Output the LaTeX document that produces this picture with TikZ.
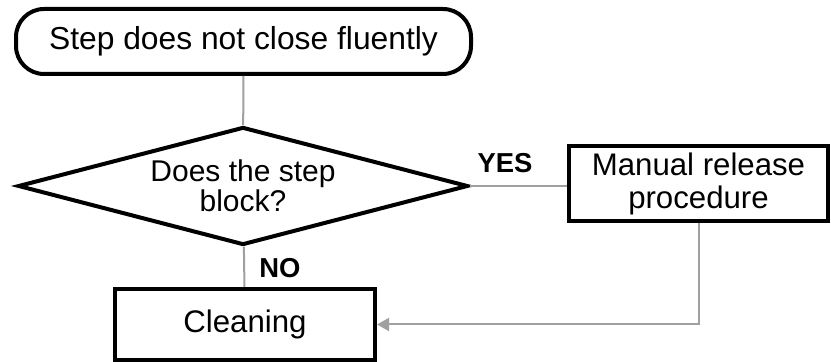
\documentclass[tikz,border=0pt]{standalone}
\usepackage{fontspec}
\setmainfont{Liberation Sans}
\usetikzlibrary{shapes.geometric,arrows.meta}
\definecolor{linkgray}{RGB}{160,160,160}

\begin{document}
\begin{tikzpicture}[
    x=0.5pt, y=-0.5pt,
    terminal/.style={draw, line width=2pt, rounded corners=14pt,
                     minimum width=227.5pt, minimum height=32.5pt,
                     font=\fontsize{15.9}{17}\selectfont},
    decision/.style={draw, diamond, line width=2pt, aspect=3.8, inner sep=0pt,
                     minimum width=225pt, minimum height=59pt, align=center,
                     font=\fontsize{15}{15}\selectfont},
    process/.style={draw, line width=2pt, align=center,
                    font=\fontsize{15.6}{16.5}\selectfont},
    link/.style={draw=linkgray, line width=1pt},
    answer/.style={font=\bfseries\fontsize{13.7}{14}\selectfont, inner sep=0pt}]

\useasboundingbox (0,0) rectangle (831,362);

\node[terminal] (start) at (243.5,41.5) {Step does not close fluently};
\node[decision] (block) at (243,186) {Does the step\\block?};
\node[process, minimum width=129.5pt, minimum height=36.5pt] (manual) at (698.5,183.5)
    {Manual release\\procedure};
\node[process, minimum width=130pt, minimum height=35.5pt] (clean) at (245,324.5)
    {Cleaning};

\draw[link] (start) -- (block);
\draw[link] (block.east) -- (block.east -| manual.west);
\draw[link] (block) -- (clean);
\draw[link, -{Triangle[length=6pt,width=6.5pt]}] (manual.south) |- (clean.east);

\node[answer] (yes) at (505,163) {YES};
\node[answer] (no) at (280,268) {NO};

\end{tikzpicture}
\end{document}
